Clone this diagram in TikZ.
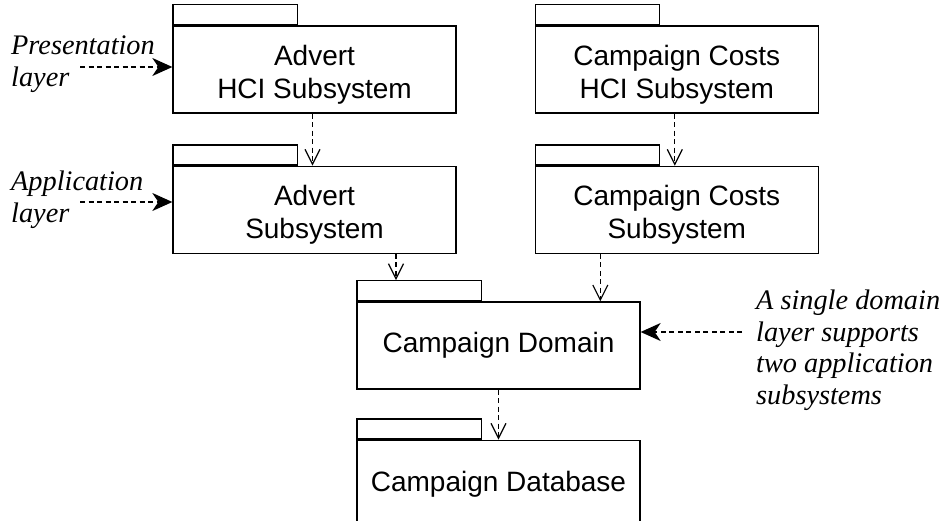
\documentclass[tikz,border=0pt]{standalone}
\usepackage{fontspec}
\setmainfont{Liberation Serif}
\setsansfont{Liberation Sans}
\usetikzlibrary{positioning,arrows.meta}

\begin{document}
\begin{tikzpicture}[
    x=1pt,y=-1pt,
    pkg/.style={draw,line width=1.3pt,minimum width=283pt,minimum height=87pt,inner sep=0pt,align=center,font=\sffamily\fontsize{28}{33}\selectfont},
    pkgtwo/.style={pkg,text height=63.5pt},
    tab/.style={draw,line width=1.3pt,minimum width=124.5pt,minimum height=20pt,inner sep=0pt,anchor=south west},
    note/.style={anchor=north west,inner sep=0pt,align=left,font=\itshape\fontsize{28.3}{31.5}\selectfont},
    dep/.style={-{Straight Barb[length=15pt,width=15pt]},line width=1.2pt,dash pattern=on 5pt off 3.5pt},
    arr/.style={-{Stealth[length=20pt,width=18pt,inset=6pt]},line width=1.4pt,dash pattern=on 5pt off 3.5pt}
  ]
    \useasboundingbox (0,0) rectangle (943,521);
    \clip (0,0) rectangle (943,521);
    % packages
    \node[pkgtwo] (advhci) at (314.5,69.5) {Advert\\HCI Subsystem};
    \node[pkgtwo,right=78pt of advhci] (costhci) {Campaign Costs\\HCI Subsystem};
    \node[pkgtwo,below=52pt of advhci] (advsub) {Advert\\Subsystem};
    \node[pkgtwo,below=52pt of costhci] (costsub) {Campaign Costs\\Subsystem};
    \node[pkg] (domain) at (498.5,345.5) {Campaign Domain};
    \node[pkg,below=50pt of domain] (dbase) {Campaign Database};
    \foreach \p in {advhci,costhci,advsub,costsub,domain,dbase}
      \node[tab] (\p-tab) at (\p.north west) {};
    % notes
    \node[note] (presnote) at (11,36) {Presentation\\layer};
    \node[note] (appnote) at (11,171) {Application\\layer};
    \node[note] (domnote) at (756,290) {A single domain\\layer supports\\two application\\subsystems};
    \coordinate (presfrom) at (80,67);
    \coordinate (appfrom) at (80,202);
    \coordinate (domfrom) at (742,332);
    \draw[arr] (presfrom) -- (presfrom -| advhci.west);
    \draw[arr] (appfrom) -- (appfrom -| advsub.west);
    \draw[arr] (domfrom) -- (domfrom -| domain.east);
    % dependencies
    \foreach \a/\b in {advhci/advsub,costhci/costsub}
      \draw[dep] ([xshift=-2pt]\a.south) -- ([xshift=-2pt]\b.north);
    \draw[dep] ([xshift=81.5pt]advsub.south) -- ([xshift=81.5pt]advsub.south |- domain-tab.north);
    \draw[dep] ([xshift=-76.5pt]costsub.south) -- ([xshift=-76.5pt]costsub.south |- domain.north);
    \draw[dep] (domain) -- (dbase);
  \end{tikzpicture}
\end{document}
